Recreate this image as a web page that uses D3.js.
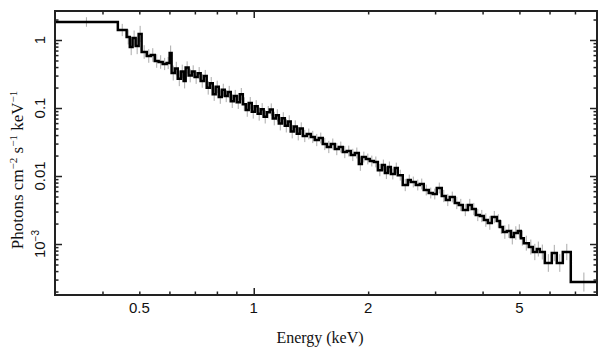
<!DOCTYPE html>
<html><head><meta charset="utf-8">
<script src="https://cdn.jsdelivr.net/npm/d3@7"></script>
<style>body{margin:0;background:#fff}svg{display:block}</style>
</head><body>
<svg id="c" width="609" height="357"></svg>
<script>
// ---- data ----
const binEdges = [0.3,0.439,0.463,0.472,0.480,0.489,0.498,0.507,0.523,0.536,0.549,0.562,0.576,0.590,0.601,0.608,0.620,0.631,0.643,0.654,0.662,0.674,0.687,0.699,0.712,0.725,0.739,0.752,0.766,0.780,0.794,0.809,0.824,0.839,0.854,0.870,0.886,0.902,0.919,0.936,0.953,0.970,0.988,1.006,1.024,1.043,1.062,1.082,1.102,1.122,1.143,1.164,1.185,1.207,1.229,1.251,1.274,1.298,1.321,1.346,1.379,1.413,1.447,1.483,1.519,1.557,1.595,1.634,1.674,1.715,1.757,1.800,1.845,1.890,1.925,1.972,2.020,2.070,2.121,2.173,2.213,2.254,2.295,2.350,2.393,2.466,2.542,2.589,2.669,2.734,2.801,2.887,2.958,3.031,3.124,3.201,3.279,3.380,3.463,3.548,3.657,3.747,3.839,3.933,4.030,4.129,4.230,4.360,4.440,4.522,4.633,4.746,4.833,4.952,5.043,5.135,5.293,5.423,5.556,5.658,5.832,6.084,6.271,6.503,6.825,8.0];
const photonFlux = [1.839,1.403,1.107,0.789,1.070,0.816,1.225,0.666,0.582,0.602,
0.491,0.475,0.444,0.459,0.644,0.327,0.380,0.270,0.345,0.250,
0.395,0.300,0.345,0.285,0.325,0.250,0.295,0.198,0.232,0.160,
0.205,0.145,0.185,0.150,0.172,0.126,0.150,0.122,0.160,0.114,
0.0935,0.118,0.0880,0.106,0.0820,0.0960,0.0745,0.0870,0.0950,0.0700,
0.0780,0.0590,0.0705,0.0550,0.0635,0.0450,0.0535,0.0420,0.0500,0.0388,
0.0415,0.0375,0.0338,0.0362,0.0296,0.0267,0.0296,0.0249,0.0267,0.0225,
0.0233,0.0204,0.0218,0.0150,0.0190,0.0178,0.0166,0.0161,0.0122,0.0145,
0.0111,0.0136,0.0107,0.0131,0.0103,0.00737,0.00873,0.00816,0.00737,0.00763,
0.00622,0.00562,0.00544,0.00666,0.00508,0.00444,0.00491,0.00401,0.00375,0.00316,
0.00375,0.00327,0.00267,0.00258,0.00225,0.00204,0.00249,0.00218,0.00178,0.00150,
0.00155,0.00127,0.00145,0.00155,0.00122,0.00103,0.000903,0.000763,0.000844,0.000763,
0.000526,0.000737,0.000526,0.000763,0.000276];
const errDex = [.07,.09,.11,.12,.11,.12,.12,.10,.10,.10,
.10,.10,.09,.09,.11,.11,.10,.11,.10,.11,
.09,.10,.09,.10,.09,.10,.09,.10,.09,.10,
.09,.10,.09,.09,.09,.10,.09,.10,.09,.10,
.10,.09,.10,.09,.10,.09,.10,.09,.09,.10,
.09,.10,.09,.10,.09,.10,.09,.10,.09,.09,
.08,.09,.09,.08,.09,.09,.08,.09,.08,.09,
.08,.09,.08,.10,.08,.08,.08,.08,.09,.08,
.09,.08,.08,.08,.08,.09,.08,.08,.08,.08,
.08,.08,.08,.08,.09,.09,.08,.09,.09,.09,
.09,.09,.09,.09,.10,.10,.09,.10,.10,.10,
.10,.11,.10,.10,.11,.11,.11,.12,.11,.11,
.13,.12,.13,.12,.14];
const xTickLabels = [0.5, 1, 2, 5];
const yTickLabels = [1, 0.1, 0.01, 0.001];

// ---- layout ----
const W = 609, H = 357;
const m = {l:55, t:11, r:12, b:62};
const x = d3.scaleLog().domain([0.3, 8]).range([m.l, W - m.r]);
const y = d3.scaleLog().domain([1.78e-4, 2.67]).range([H - m.b, m.t]);
const svg = d3.select("#c");
const frameCol = "#222";

const bins = photonFlux.map((f, i) => ({lo: binEdges[i], hi: binEdges[i+1], f, e: errDex[i]}));

svg.append("defs").append("clipPath").attr("id","clip")
  .append("rect").attr("x", m.l).attr("y", m.t).attr("width", W-m.l-m.r).attr("height", H-m.t-m.b);

const plot = svg.append("g").attr("clip-path","url(#clip)");

// error bars
plot.append("g").selectAll("line").data(bins).join("line")
  .attr("x1", d => x(Math.sqrt(d.lo*d.hi))).attr("x2", d => x(Math.sqrt(d.lo*d.hi)))
  .attr("y1", d => y(d.f / Math.pow(10, d.e))).attr("y2", d => y(d.f * Math.pow(10, d.e)))
  .attr("stroke", "#aaaaaa").attr("stroke-width", 1);

// step histogram
const pts = bins.flatMap(b => [[b.lo, b.f], [b.hi, b.f]]);
plot.append("path").datum(pts)
  .attr("d", d3.line().x(d => x(d[0])).y(d => y(d[1])))
  .attr("fill","none").attr("stroke","#000").attr("stroke-width",2.5).attr("stroke-linejoin","miter");

// ticks
const xTicks = x.ticks().filter(v => v > 0.3 + 1e-9 && v < 8 - 1e-9);
const yTicks = y.ticks().filter(v => v > 1.78e-4 && v < 2.67);
const isDecade = v => Math.abs(Math.log10(v) - Math.round(Math.log10(v))) < 1e-6;
const tlen = v => isDecade(v) ? 7 : 3.5;

function axis(gen, transform, ticks) {
  const g = svg.append("g").attr("transform", transform)
    .call(gen.tickValues(ticks).tickFormat("").tickSizeOuter(0));
  g.select(".domain").remove();
  g.selectAll(".tick line").attr("stroke", frameCol).attr("stroke-width", 1.5);
  return g;
}
const gb = axis(d3.axisBottom(x), `translate(0,${H-m.b})`, xTicks);
gb.selectAll(".tick line").attr("y2", d => -tlen(d));
const gt = axis(d3.axisTop(x), `translate(0,${m.t})`, xTicks);
gt.selectAll(".tick line").attr("y2", d => tlen(d));
const gl = axis(d3.axisLeft(y), `translate(${m.l},0)`, yTicks);
gl.selectAll(".tick line").attr("x2", d => tlen(d));
const gr = axis(d3.axisRight(y), `translate(${W-m.r},0)`, yTicks);
gr.selectAll(".tick line").attr("x2", d => -tlen(d));

// frame
svg.append("rect").attr("x", m.l).attr("y", m.t).attr("width", W-m.l-m.r).attr("height", H-m.t-m.b)
  .attr("fill","none").attr("stroke", frameCol).attr("stroke-width", 2);

// tick labels
const sans = "'Liberation Sans', Arial, Helvetica, sans-serif";
const serif = "'Liberation Serif', 'Times New Roman', serif";
svg.append("g").selectAll("text").data(xTickLabels).join("text")
  .attr("x", d => x(d)).attr("y", H - m.b + 18)
  .attr("text-anchor","middle").attr("font-family", sans).attr("font-size", 15).attr("fill","#111")
  .text(d => String(d));

const yl = svg.append("g").selectAll("text").data(yTickLabels).join("text")
  .attr("transform", d => `translate(${m.l-10},${y(d)}) rotate(-90)`)
  .attr("text-anchor","middle").attr("font-family", sans).attr("font-size", 15).attr("fill","#111");
yl.each(function(d) {
  const t = d3.select(this);
  if (d < 0.005) {
    const e = Math.round(Math.log10(d));
    t.append("tspan").text("10");
    t.append("tspan").attr("dy", -6).attr("font-size", 10).text("\u2212" + Math.abs(e));
  } else t.text(String(d));
});

// axis titles
svg.append("text").attr("x", 320).attr("y", 343).attr("text-anchor","middle")
  .attr("font-family", serif).attr("font-size", 16).attr("fill","#111").text("Energy (keV)");

const yt = svg.append("text").attr("transform", `translate(23,170) rotate(-90)`)
  .attr("text-anchor","middle").attr("font-family", serif).attr("font-size", 17).attr("fill","#111");
yt.append("tspan").text("Photons cm");
yt.append("tspan").attr("dy",-6).attr("font-size",11).text("\u22122");
yt.append("tspan").attr("dy",6).text(" s");
yt.append("tspan").attr("dy",-6).attr("font-size",11).text("\u22121");
yt.append("tspan").attr("dy",6).text(" keV");
yt.append("tspan").attr("dy",-6).attr("font-size",11).text("\u22121");
</script>
</body></html>
